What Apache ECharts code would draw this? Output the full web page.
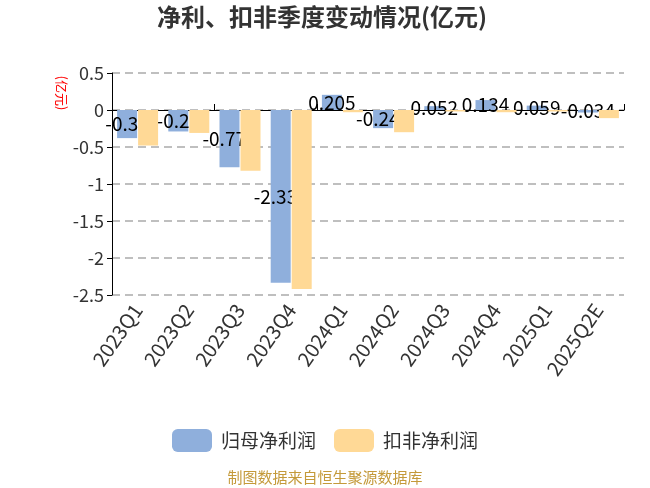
<!DOCTYPE html>
<html>
<head>
<meta charset="utf-8">
<script src="https://cdn.jsdelivr.net/npm/echarts@6/dist/echarts.min.js"></script>
<style>html,body{margin:0;padding:0;background:#fff;}#c{width:650px;height:488px;}</style>
</head>
<body>
<div id="c"></div>
<script>
var categories = ['2023Q1','2023Q2','2023Q3','2023Q4','2024Q1','2024Q2','2024Q3','2024Q4','2025Q1','2025Q2E'];
var netProfit = [-0.38, -0.29, -0.775, -2.336, 0.205, -0.245, 0.052, 0.134, 0.059, -0.034];
var deductedProfit = [-0.48, -0.31, -0.82, -2.42, -0.03, -0.30, -0.02, -0.03, -0.02, -0.11];
var yTicks = [-2.5, -2, -1.5, -1, -0.5, 0, 0.5];

var font = '"Noto Sans CJK SC", "Noto Sans", sans-serif';
var chart = echarts.init(document.getElementById('c'));
chart.setOption({
  backgroundColor: '#fff',
  animation: false,
  title: {
    text: '净利、扣非季度变动情况(亿元)',
    left: 152, top: 0,
    textStyle: {fontSize: 24, fontWeight: 'bold', color: '#333', fontFamily: font}
  },
  grid: {left: 112, right: 26, top: 73, bottom: 193},
  legend: {
    top: 424, left: 'center',
    itemWidth: 40, itemHeight: 23, itemGap: 18,
    textStyle: {fontSize: 19, color: '#333', fontFamily: font, padding: [0, 0, 0, 4]},
    data: ['归母净利润', '扣非净利润']
  },
  graphic: [
    {type: 'text', left: 'center', top: 470,
     style: {text: '制图数据来自恒生聚源数据库', fill: '#c49a3a', fontSize: 15, fontFamily: font}},
    {type: 'text', x: 62, y: 93, rotation: -Math.PI / 2,
     style: {text: '(亿元)', fill: '#ff0000', fontSize: 13, fontFamily: font, align: 'center', verticalAlign: 'middle'}}
  ],
  xAxis: [
    {type: 'category', data: categories, position: 'bottom',
     axisLine: {show: false, onZero: false}, axisTick: {show: false},
     axisLabel: {rotate: 55, fontSize: 20, color: '#333', margin: 11, fontFamily: font, interval: 0}},
    {type: 'category', data: categories, gridIndex: 0,
     axisLine: {show: true, onZero: true, lineStyle: {color: '#000', width: 1}},
     axisTick: {show: true, length: 6, lineStyle: {color: '#000'}},
     axisLabel: {show: false}}
  ],
  yAxis: {
    type: 'value', min: -2.5, max: 0.5, interval: 0.5,
    axisLine: {show: true, lineStyle: {color: '#000'}},
    axisTick: {show: true, length: 5, lineStyle: {color: '#000'}},
    axisLabel: {fontSize: 18, color: '#333', fontFamily: font, margin: 8,
      formatter: function (v) { return yTicks.indexOf(v) >= 0 ? String(v) : ''; }},
    splitLine: {show: true, lineStyle: {color: '#aaa', type: [8, 5], width: 1.5}}
  },
  series: [
    {name: '归母净利润', type: 'bar', data: netProfit, barWidth: 20, barGap: '5%', z: 2,
     itemStyle: {color: '#8fafdc'},
     label: {show: true, position: 'inside', color: '#000', fontSize: 19, fontFamily: font}},
    {name: '扣非净利润', type: 'bar', data: deductedProfit, barWidth: 20, barGap: '5%', z: 3,
     itemStyle: {color: '#ffd996'}}
  ]
});
</script>
</body>
</html>
